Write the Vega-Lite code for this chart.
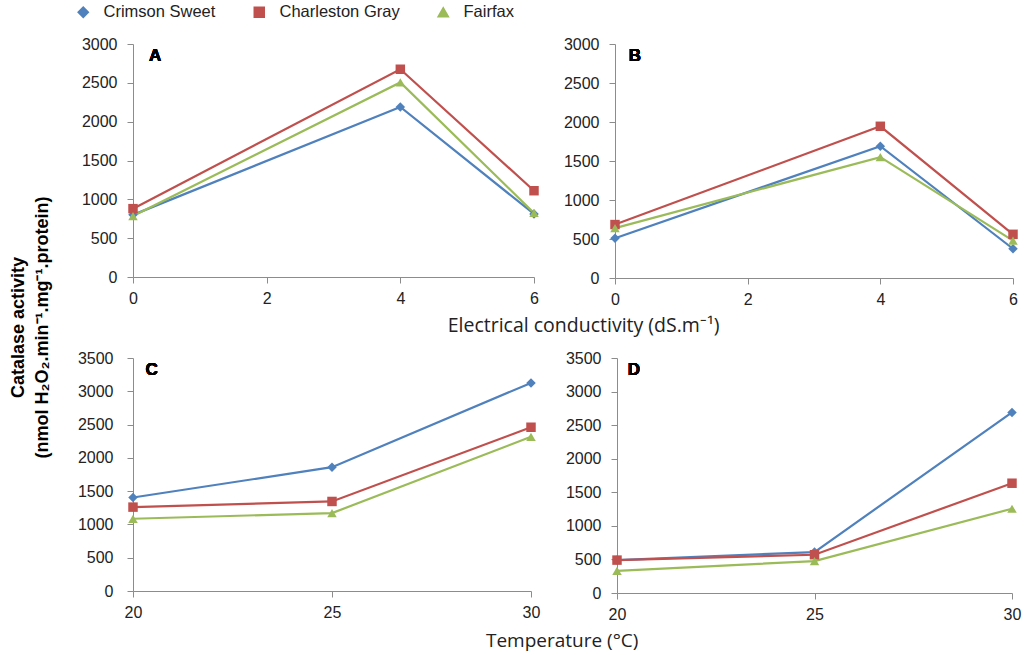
{
  "$schema": "https://vega.github.io/schema/vega-lite/v6.json",
  "background": "white",
  "padding": {"left": 9, "top": 4, "right": 6, "bottom": 4},
  "datasets": {
    "d": [
      {"panel": "A", "x": 0, "cultivar": "Crimson Sweet", "value": 800},
      {"panel": "A", "x": 4, "cultivar": "Crimson Sweet", "value": 2190},
      {"panel": "A", "x": 6, "cultivar": "Crimson Sweet", "value": 812},
      {"panel": "A", "x": 0, "cultivar": "Charleston Gray", "value": 880},
      {"panel": "A", "x": 4, "cultivar": "Charleston Gray", "value": 2675},
      {"panel": "A", "x": 6, "cultivar": "Charleston Gray", "value": 1111},
      {"panel": "A", "x": 0, "cultivar": "Fairfax", "value": 785},
      {"panel": "A", "x": 4, "cultivar": "Fairfax", "value": 2505},
      {"panel": "A", "x": 6, "cultivar": "Fairfax", "value": 825},
      {"panel": "B", "x": 0, "cultivar": "Crimson Sweet", "value": 510},
      {"panel": "B", "x": 4, "cultivar": "Crimson Sweet", "value": 1690},
      {"panel": "B", "x": 6, "cultivar": "Crimson Sweet", "value": 375},
      {"panel": "B", "x": 0, "cultivar": "Charleston Gray", "value": 685},
      {"panel": "B", "x": 4, "cultivar": "Charleston Gray", "value": 1945},
      {"panel": "B", "x": 6, "cultivar": "Charleston Gray", "value": 560},
      {"panel": "B", "x": 0, "cultivar": "Fairfax", "value": 640},
      {"panel": "B", "x": 4, "cultivar": "Fairfax", "value": 1550},
      {"panel": "B", "x": 6, "cultivar": "Fairfax", "value": 480},
      {"panel": "C", "x": 20, "cultivar": "Crimson Sweet", "value": 1405},
      {"panel": "C", "x": 25, "cultivar": "Crimson Sweet", "value": 1860},
      {"panel": "C", "x": 30, "cultivar": "Crimson Sweet", "value": 3126},
      {"panel": "C", "x": 20, "cultivar": "Charleston Gray", "value": 1260},
      {"panel": "C", "x": 25, "cultivar": "Charleston Gray", "value": 1345},
      {"panel": "C", "x": 30, "cultivar": "Charleston Gray", "value": 2460},
      {"panel": "C", "x": 20, "cultivar": "Fairfax", "value": 1085},
      {"panel": "C", "x": 25, "cultivar": "Fairfax", "value": 1170},
      {"panel": "C", "x": 30, "cultivar": "Fairfax", "value": 2316},
      {"panel": "D", "x": 20, "cultivar": "Crimson Sweet", "value": 490},
      {"panel": "D", "x": 25, "cultivar": "Crimson Sweet", "value": 610},
      {"panel": "D", "x": 30, "cultivar": "Crimson Sweet", "value": 2690},
      {"panel": "D", "x": 20, "cultivar": "Charleston Gray", "value": 490},
      {"panel": "D", "x": 25, "cultivar": "Charleston Gray", "value": 570},
      {"panel": "D", "x": 30, "cultivar": "Charleston Gray", "value": 1635},
      {"panel": "D", "x": 20, "cultivar": "Fairfax", "value": 330},
      {"panel": "D", "x": 25, "cultivar": "Fairfax", "value": 475},
      {"panel": "D", "x": 30, "cultivar": "Fairfax", "value": 1255}
    ]
  },
  "title": {
    "text": ["Catalase activity", "(nmol H₂O₂.min⁻¹.mg⁻¹.protein)"],
    "orient": "left",
    "anchor": "middle",
    "font": "Liberation Sans",
    "fontSize": 18,
    "fontWeight": "bold",
    "color": "#000000",
    "lineHeight": 24,
    "offset": 23
  },
  "spacing": 14,
  "vconcat": [
    {
      "title": {"text": "Electrical conductivity (dS.m⁻¹)", "orient": "bottom", "anchor": "middle", "font": "Open Sans", "fontSize": 19.5, "fontWeight": "normal", "color": "#222222", "dx": 34, "offset": 10},
      "spacing": 24,
      "hconcat": [
        {
          "width": 401, "height": 233,
          "data": {"name": "d"},
          "transform": [{"filter": "datum.panel === 'A'"}],
          "encoding": {
            "x": {"field": "x", "type": "quantitative", "scale": {"domain": [0, 6], "nice": false}, "axis": {"values": [0, 2, 4, 6], "title": null}},
            "y": {"field": "value", "type": "quantitative", "scale": {"domain": [0, 3000], "nice": false}, "axis": {"values": [0, 500, 1000, 1500, 2000, 2500, 3000], "title": null, "format": "d"}}
          },
          "layer": [
            {"mark": {"type": "line", "strokeWidth": 2.2}, "encoding": {"color": {"field": "cultivar", "type": "nominal", "scale": {"domain": ["Crimson Sweet", "Charleston Gray", "Fairfax"], "range": ["#4F81BD", "#C0504D", "#9BBB59"]}}}},
            {"mark": {"type": "point", "filled": true, "size": 90, "opacity": 1}, "encoding": {"color": {"field": "cultivar", "type": "nominal", "scale": {"domain": ["Crimson Sweet", "Charleston Gray", "Fairfax"], "range": ["#4F81BD", "#C0504D", "#9BBB59"]}}, "shape": {"field": "cultivar", "type": "nominal", "scale": {"domain": ["Crimson Sweet", "Charleston Gray", "Fairfax"], "range": ["diamond", "square", "triangle-up"]}}}},
            {"mark": {"type": "text", "font": "Liberation Sans", "fontSize": 17, "fontWeight": "bold", "fill": "#000"}, "encoding": {"x": {"datum": 0.33}, "y": {"datum": 2850}, "text": {"value": "A"}}}
          ]
        },
        {
          "width": 398, "height": 234,
          "data": {"name": "d"},
          "transform": [{"filter": "datum.panel === 'B'"}],
          "encoding": {
            "x": {"field": "x", "type": "quantitative", "scale": {"domain": [0, 6], "nice": false}, "axis": {"values": [0, 2, 4, 6], "title": null}},
            "y": {"field": "value", "type": "quantitative", "scale": {"domain": [0, 3000], "nice": false}, "axis": {"values": [0, 500, 1000, 1500, 2000, 2500, 3000], "title": null, "format": "d"}}
          },
          "layer": [
            {"mark": {"type": "line", "strokeWidth": 2.2}, "encoding": {"color": {"field": "cultivar", "type": "nominal", "scale": {"domain": ["Crimson Sweet", "Charleston Gray", "Fairfax"], "range": ["#4F81BD", "#C0504D", "#9BBB59"]}}}},
            {"mark": {"type": "point", "filled": true, "size": 90, "opacity": 1}, "encoding": {"color": {"field": "cultivar", "type": "nominal", "scale": {"domain": ["Crimson Sweet", "Charleston Gray", "Fairfax"], "range": ["#4F81BD", "#C0504D", "#9BBB59"]}}, "shape": {"field": "cultivar", "type": "nominal", "scale": {"domain": ["Crimson Sweet", "Charleston Gray", "Fairfax"], "range": ["diamond", "square", "triangle-up"]}}}},
            {"mark": {"type": "text", "font": "Liberation Sans", "fontSize": 17, "fontWeight": "bold", "fill": "#000"}, "encoding": {"x": {"datum": 0.3}, "y": {"datum": 2850}, "text": {"value": "B"}}}
          ]
        }
      ]
    },
    {
      "title": {"text": "Temperature (°C)", "orient": "bottom", "anchor": "middle", "font": "Open Sans", "fontSize": 19, "fontWeight": "normal", "color": "#222222", "dx": 13, "offset": 10},
      "spacing": 25,
      "hconcat": [
        {
          "width": 398, "height": 233,
          "data": {"name": "d"},
          "transform": [{"filter": "datum.panel === 'C'"}],
          "encoding": {
            "x": {"field": "x", "type": "quantitative", "scale": {"domain": [20, 30], "nice": false, "zero": false}, "axis": {"values": [20, 25, 30], "title": null}},
            "y": {"field": "value", "type": "quantitative", "scale": {"domain": [0, 3500], "nice": false}, "axis": {"values": [0, 500, 1000, 1500, 2000, 2500, 3000, 3500], "title": null, "format": "d", "labelPadding": 14}}
          },
          "layer": [
            {"mark": {"type": "line", "strokeWidth": 2.2}, "encoding": {"color": {"field": "cultivar", "type": "nominal", "scale": {"domain": ["Crimson Sweet", "Charleston Gray", "Fairfax"], "range": ["#4F81BD", "#C0504D", "#9BBB59"]}}}},
            {"mark": {"type": "point", "filled": true, "size": 90, "opacity": 1}, "encoding": {"color": {"field": "cultivar", "type": "nominal", "scale": {"domain": ["Crimson Sweet", "Charleston Gray", "Fairfax"], "range": ["#4F81BD", "#C0504D", "#9BBB59"]}}, "shape": {"field": "cultivar", "type": "nominal", "scale": {"domain": ["Crimson Sweet", "Charleston Gray", "Fairfax"], "range": ["diamond", "square", "triangle-up"]}}}},
            {"mark": {"type": "text", "font": "Liberation Sans", "fontSize": 17, "fontWeight": "bold", "fill": "#000"}, "encoding": {"x": {"datum": 20.47}, "y": {"datum": 3314}, "text": {"value": "C"}}}
          ]
        },
        {
          "width": 395, "height": 235,
          "data": {"name": "d"},
          "transform": [{"filter": "datum.panel === 'D'"}],
          "encoding": {
            "x": {"field": "x", "type": "quantitative", "scale": {"domain": [20, 30], "nice": false, "zero": false}, "axis": {"values": [20, 25, 30], "title": null}},
            "y": {"field": "value", "type": "quantitative", "scale": {"domain": [0, 3500], "nice": false}, "axis": {"values": [0, 500, 1000, 1500, 2000, 2500, 3000, 3500], "title": null, "format": "d"}}
          },
          "layer": [
            {"mark": {"type": "line", "strokeWidth": 2.2}, "encoding": {"color": {"field": "cultivar", "type": "nominal", "scale": {"domain": ["Crimson Sweet", "Charleston Gray", "Fairfax"], "range": ["#4F81BD", "#C0504D", "#9BBB59"]}}}},
            {"mark": {"type": "point", "filled": true, "size": 90, "opacity": 1}, "encoding": {"color": {"field": "cultivar", "type": "nominal", "scale": {"domain": ["Crimson Sweet", "Charleston Gray", "Fairfax"], "range": ["#4F81BD", "#C0504D", "#9BBB59"]}}, "shape": {"field": "cultivar", "type": "nominal", "scale": {"domain": ["Crimson Sweet", "Charleston Gray", "Fairfax"], "range": ["diamond", "square", "triangle-up"]}}}},
            {"mark": {"type": "text", "font": "Liberation Sans", "fontSize": 17, "fontWeight": "bold", "fill": "#000"}, "encoding": {"x": {"datum": 20.43}, "y": {"datum": 3314}, "text": {"value": "D"}}}
          ]
        }
      ]
    }
  ],
  "resolve": {"scale": {"color": "shared", "shape": "shared"}},
  "config": {
    "view": {"stroke": null},
    "font": "Liberation Sans",
    "axis": {
      "grid": false,
      "domainColor": "#8c8c8c",
      "tickColor": "#8c8c8c",
      "tickSize": 6,
      "labelFont": "Liberation Sans",
      "labelFontSize": 16,
      "labelColor": "#222222",
      "labelOverlap": false,
      "labelFlush": false
    },
    "axisX": {"labelPadding": 7},
    "axisY": {"labelPadding": 10},
    "legend": {
      "orient": "none",
      "legendX": -58,
      "legendY": -40,
      "direction": "horizontal",
      "title": null,
      "labelFont": "Liberation Sans",
      "labelFontSize": 16.5,
      "labelColor": "#222222",
      "symbolSize": 90,
      "symbolStrokeWidth": 2,
      "labelOffset": 12,
      "columnPadding": 34
    }
  }
}
